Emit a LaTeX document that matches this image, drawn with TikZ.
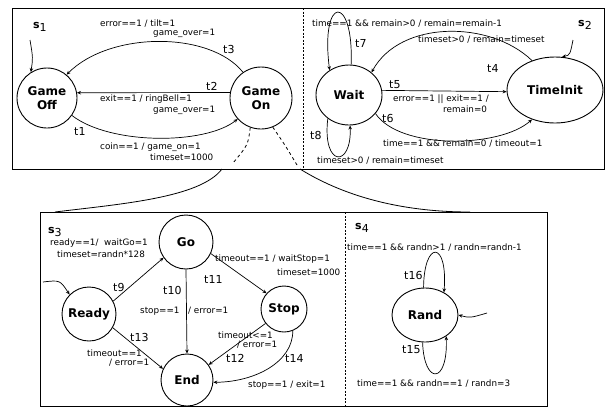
\documentclass[tikz,border=0pt]{standalone}
\usepackage{fontspec}
\setmainfont{DejaVu Sans}
\usetikzlibrary{arrows.meta,shapes.geometric}
\newcommand{\sname}[1]{\textbf{s}\raisebox{-3pt}{#1}}
\tikzset{
  state/.style = {circle, draw, line width=0.9pt, inner sep=0pt, align=center,
    font=\fontsize{12}{13.5}\selectfont\bfseries},
  ostate/.style = {ellipse, draw, line width=0.9pt, inner sep=0pt, align=center,
    font=\fontsize{12}{13.5}\selectfont\bfseries},
  tname/.style = {anchor=west, inner sep=0pt, font=\fontsize{11}{12}\selectfont},
  note/.style = {anchor=west, inner sep=0pt, font=\fontsize{8.8}{9}\selectfont},
  sbox/.style = {anchor=west, inner sep=0pt, font=\fontsize{11}{12}\selectfont},
  arrow/.style = {line width=0.7pt, -{Stealth[length=4pt,width=3.5pt]}},
  boxline/.style = {line width=0.9pt},
  divider/.style = {line width=0.6pt, dash pattern=on 2pt off 1.5pt},
  link/.style = {line width=0.8pt}
}
\begin{document}
\begin{tikzpicture}[x=1pt, y=-1pt]
\useasboundingbox (0,0) rectangle (606,408);

% frames
\draw[boxline] (12,8) rectangle (604,169);
\draw[divider] (303,8) -- (303,169);
\draw[boxline] (40,212) rectangle (547,406);
\draw[divider] (345,212) -- (345,406);

% s1
\node[sbox] (s1) at (33,27) {\sname{1}};
\node[state, minimum size=60pt] (off) at (47,98) {Game\\Off};
\node[state, minimum size=62pt] (on) at (261,98) {Game\\On};
\coordinate (i1) at (30,40);
\draw[arrow] (i1) .. controls (33,58) .. (off.122);

\draw[arrow] (on.125) .. controls (210,31) and (110,31) .. (off.50);
\node[tname] (t3) at (223,49) {t3};
\node[note] at (100,24) {error==1 / tilt=1};
\node[note] at (153,33) {game\_over=1};

\draw[arrow] (on.170) -- (off.10);
\node[tname] (t2) at (206,86) {t2};
\node[note] at (100,99) {exit==1 / ringBell=1};
\node[note] at (153,110) {game\_over=1};

\draw[arrow] (off.-35) .. controls (110,145) and (205,145) .. (on.-138);
\node[tname] (t1) at (74,131) {t1};
\node[note] at (100,147) {coin==1 / game\_on=1};
\node[note] at (150,157) {timeset=1000};

% s2
\node[sbox] (s2) at (578,25) {\sname{2}};
\node[ostate, minimum width=66pt, minimum height=60pt] (wait) at (349,95) {Wait};
\node[ostate, minimum width=96pt, minimum height=66pt] (tinit) at (555,90) {TimeInit};
\coordinate (i2) at (573,40);
\draw[arrow] (i2) .. controls (570,55) .. (tinit.78);

\draw[arrow] (wait.86) .. controls (354,-6) and (320,-6) .. (wait.128);
\node[tname] (t7) at (355,43) {t7};
\node[note] at (312,24) {time==1 \&\& remain>0 / remain=remain-1};

\draw[arrow] (tinit.128) .. controls (490,20) and (400,20) .. (wait.45);
\node[tname] (t4) at (487,68) {t4};
\node[note] at (418,40) {timeset>0 / remain=timeset};

\draw[arrow] (wait.8) -- (tinit.182);
\node[tname] (t5) at (389,85) {t5};
\node[note] at (393,99) {error==1 || exit==1 /};
\node[note] at (443,109) {remain=0};

\draw[arrow] (wait.-35) .. controls (400,150) and (500,148) .. (tinit.-128);
\node[tname] (t6) at (382,118) {t6};
\node[note] at (383,144) {time==1 \&\& remain=0 / timeout=1};

\draw[arrow] (wait.228) .. controls (322,168) and (352,168) .. (wait.272);
\node[tname] (t8) at (310,135) {t8};
\node[note] at (317,161) {timeset>0 / remain=timeset};

% links to s3 and s4
\coordinate (d1) at (233,163);
\coordinate (d2) at (297,165);
\coordinate (c1) at (222,169);
\coordinate (c2) at (55,212);
\coordinate (c3) at (300,169);
\coordinate (c4) at (470,212);
\draw[link, dashed] (on.250) .. controls (248,145) .. (d1);
\draw[link, dashed] (on.292) .. controls (285,145) .. (d2);
\draw[link] (c1) .. controls (200,198) and (120,204) .. (c2);
\draw[link] (c3) .. controls (350,200) and (410,212) .. (c4);

% s3
\node[sbox] (s3) at (48,232) {\sname{3}};
\node[state, minimum size=54pt] (go) at (186,242) {Go};
\node[state, minimum size=54pt] (ready) at (89,314) {Ready};
\node[state, minimum size=46pt] (stop) at (284,309) {Stop};
\node[state, minimum size=52pt] (end) at (187,380) {End};
\coordinate (i3) at (43,282);
\draw[arrow] (i3) .. controls (60,280) .. (ready.135);

\draw[arrow] (ready.28) -- (go.215);
\node[tname] (t9) at (113,287) {t9};
\node[note] at (50,243) {ready==1/ \ waitGo=1};
\node[note] at (57,254) {timeset=randn*128};

\draw[arrow] (go.south) -- (end.north);
\node[tname] (t10) at (163,290) {t10};
\node[note] at (140,311) {stop==1};
\node[note] at (188,311) {/ error=1};

\draw[arrow] (go.-25) -- (stop.138);
\node[tname] (t11) at (204,279) {t11};
\node[note] at (215,259) {timeout==1 / waitStop=1};
\node[note] at (277,272) {timeset=1000};

\draw[arrow] (ready.-30) -- (end.155);
\node[tname] (t13) at (130,337) {t13};
\node[note] at (87,353) {timeout==1};
\node[note] at (109,363) {/ error=1};

\draw[arrow] (stop.218) -- (end.35);
\node[tname] (t12) at (226,358) {t12};
\node[note] at (218,335) {timeout<=1};
\node[note] at (237,345) {/ error=1};

\draw[arrow] (stop.-68) .. controls (293,362) and (255,382) .. (end.-5);
\node[tname] (t14) at (285,358) {t14};
\node[note] at (248,385) {stop==1 / exit=1};

% s4
\node[sbox] (s4) at (355,228) {\sname{4}};
\node[ostate, minimum width=66pt, minimum height=54pt] (rand) at (425,315) {Rand};
\coordinate (i4) at (487,313);
\draw[arrow] (i4) .. controls (470,318) .. (rand.east);

\draw[arrow] (rand.93) .. controls (424,240) and (448,240) .. (rand.50);
\node[tname] (t16) at (404,275) {t16};
\node[note] at (347,248) {time==1 \&\& randn>1 / randn=randn-1};

\draw[arrow] (rand.-95) .. controls (424,385) and (448,385) .. (rand.-45);
\node[tname] (t15) at (402,350) {t15};
\node[note] at (357,384) {time==1 \&\& randn==1 / randn=3};

\end{tikzpicture}
\end{document}
